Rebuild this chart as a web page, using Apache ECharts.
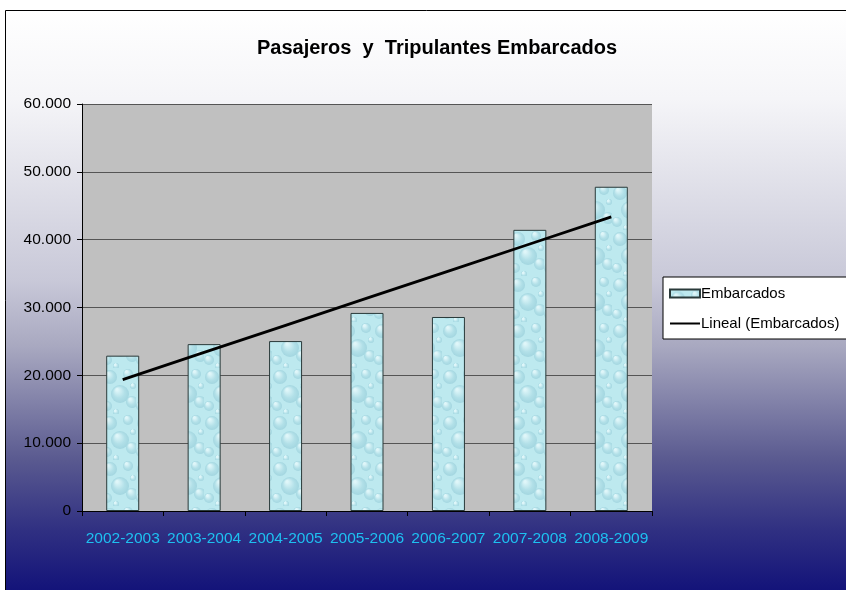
<!DOCTYPE html>
<html lang="es">
<head>
<meta charset="UTF-8">
<title>Pasajeros y Tripulantes Embarcados</title>
<script src="https://cdn.jsdelivr.net/npm/echarts@6/dist/echarts.min.js"></script>
<style>
  body { margin: 0; padding: 0; background: #fff; }
  #main { width: 846px; height: 590px; }
</style>
</head>
<body>
<div id="main"></div>
<script>
// datos
var periodos = ['2002-2003', '2003-2004', '2004-2005', '2005-2006', '2006-2007', '2007-2008', '2008-2009'];
var embarcados = [22900, 24600, 25050, 29200, 28600, 41450, 47800];

// linea de tendencia (regresion lineal de los datos)
function tendencia(vals) {
    var n = vals.length, sx = 0, sy = 0, sxy = 0, sxx = 0;
    for (var i = 0; i < n; i++) {
        sx += i; sy += vals[i]; sxy += i * vals[i]; sxx += i * i;
    }
    var b = (n * sxy - sx * sy) / (n * sxx - sx * sx);
    var a = (sy - b * sx) / n;
    return vals.map(function (v, i) { return a + b * i; });
}

// textura tipo gotas de agua para las barras (suave)
function texturaGotas() {
    var c = document.createElement('canvas');
    c.width = 34; c.height = 46;
    var ctx = c.getContext('2d');
    ctx.fillStyle = '#bde9ef';
    ctx.fillRect(0, 0, 34, 46);
    var gotas = [[8, 9, 7], [26, 6, 5], [18, 26, 9], [5, 38, 5], [30, 34, 6], [14, 44, 3], [31, 18, 3]];
    gotas.forEach(function (g) {
        var grd = ctx.createRadialGradient(g[0] - g[2] / 3, g[1] - g[2] / 2, 1, g[0], g[1], g[2]);
        grd.addColorStop(0, '#dff6f9');
        grd.addColorStop(0.6, '#b2e0e8');
        grd.addColorStop(1, '#a3d6e0');
        ctx.fillStyle = grd;
        ctx.beginPath();
        ctx.arc(g[0], g[1], g[2], 0, Math.PI * 2);
        ctx.fill();
    });
    return c;
}

var myChart = echarts.init(document.getElementById('main'));

var option = {
    backgroundColor: '#ffffff',
    animation: false,
    graphic: [{
        type: 'rect',
        z: -10,
        silent: true,
        shape: { x: 5.5, y: 10.5, width: 850, height: 590 },
        style: {
            stroke: '#000',
            lineWidth: 1,
            fill: new echarts.graphic.LinearGradient(0, 0, 0, 1, [
                { offset: 0, color: '#ffffff' },
                { offset: 0.15, color: '#f5f5f8' },
                { offset: 0.46, color: '#c8c8d8' },
                { offset: 0.57, color: '#a8a8c0' },
                { offset: 0.76, color: '#5a5a90' },
                { offset: 0.88, color: '#303082' },
                { offset: 1, color: '#0e0e78' }
            ])
        }
    }],
    title: {
        text: 'Pasajeros  y  Tripulantes Embarcados',
        left: 432,
        top: 33,
        textAlign: 'center',
        textStyle: {
            fontFamily: 'Liberation Sans',
            fontSize: 20,
            fontWeight: 'bold',
            color: '#000'
        }
    },
    legend: {
        orient: 'vertical',
        left: 663,
        top: 277,
        width: 200,
        padding: [9, 40, 8, 6],
        itemGap: 15,
        itemWidth: 30,
        itemHeight: 8,
        backgroundColor: '#ffffff',
        borderColor: '#000',
        borderWidth: 1,
        borderRadius: 0,
        textStyle: { fontFamily: 'Liberation Sans', fontSize: 15, color: '#000', padding: [0, 0, 0, -4] },
        data: [
            { name: 'Embarcados', icon: 'rect' },
            { name: 'Lineal (Embarcados)', itemStyle: { opacity: 0 } }
        ]
    },
    grid: {
        left: 82,
        right: 194,
        top: 104,
        bottom: 79,
        show: true,
        backgroundColor: '#c0c0c0',
        borderWidth: 0
    },
    xAxis: {
        type: 'category',
        data: periodos,
        axisLine: { lineStyle: { color: '#000', width: 1 } },
        axisTick: { show: true, length: 5, lineStyle: { color: '#000' } },
        axisLabel: {
            margin: 20,
            fontFamily: 'Liberation Sans',
            fontSize: 15.5,
            color: '#1ec0f0',
            interval: 0
        }
    },
    yAxis: {
        type: 'value',
        min: 0,
        max: 60000,
        interval: 10000,
        axisLine: { show: true, lineStyle: { color: '#000', width: 1 } },
        axisTick: { show: true, length: 5, lineStyle: { color: '#000' } },
        splitLine: { lineStyle: { color: '#555', width: 1 } },
        axisLabel: {
            margin: 11,
            fontFamily: 'Liberation Sans',
            fontSize: 15.5,
            color: '#000',
            formatter: function (v) {
                return v === 0 ? '0' : (v / 1000).toFixed(0) + '.000';
            }
        }
    },
    series: [{
        name: 'Embarcados',
        type: 'bar',
        data: embarcados,
        barWidth: 33,
        itemStyle: {
            color: { image: texturaGotas(), repeat: 'repeat' },
            borderColor: '#2a3a3a',
            borderWidth: 1
        }
    }, {
        name: 'Lineal (Embarcados)',
        type: 'line',
        data: tendencia(embarcados),
        symbol: 'none',
        itemStyle: { color: '#000' },
        lineStyle: { color: '#000', width: 2.8 },
        z: 5
    }]
};

myChart.setOption(option);
</script>
</body>
</html>
